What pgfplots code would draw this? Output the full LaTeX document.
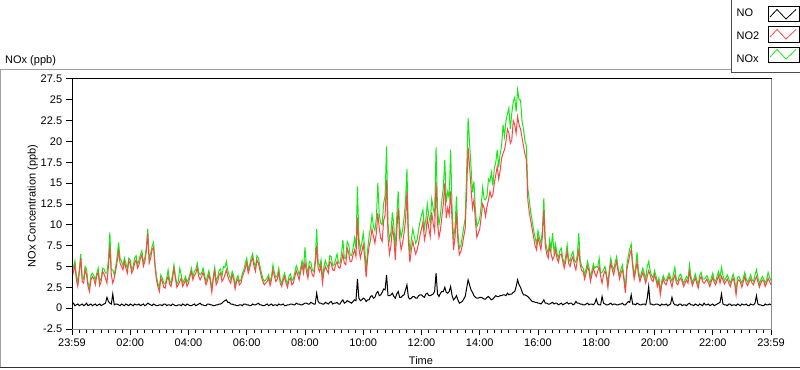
\documentclass[border=0pt]{standalone}
\usepackage{fontspec}
\setmainfont{Liberation Sans}
\usepackage{pgfplots}
\pgfplotsset{compat=1.18}
\usepackage{pgfplotstable}
\definecolor{noxgreen}{RGB}{20,235,20}
\definecolor{notwored}{RGB}{255,70,70}
\definecolor{framegray}{RGB}{160,160,160}
\definecolor{axgray}{RGB}{140,140,140}

\pgfplotstableread{
t no no2 nox
0.0 0.4 3.6 4.2
0.05 0.6 4.4 5.0
0.1 0.3 5.2 5.7
0.15 0.4 3.4 3.9
0.2 0.5 2.6 3.2
0.25 0.3 4.2 4.6
0.3 0.4 6.0 6.5
0.35 0.5 3.2 3.7
0.4 0.3 3.0 3.5
0.45 0.4 4.6 5.0
0.5 0.6 4.0 4.7
0.55 0.3 2.6 3.0
0.6 0.4 2.0 2.5
0.65 0.5 3.4 3.9
0.7 0.3 3.8 4.2
0.75 0.4 3.5 3.9
0.8 0.5 2.8 3.4
0.85 0.3 3.9 4.2
0.9 0.4 4.3 4.8
0.95 0.5 2.7 3.2
1.0 0.3 3.2 3.6
1.05 0.4 4.4 4.8
1.1 0.5 4.1 4.7
1.15 0.6 3.6 4.2
1.2 1.3 3.0 4.2
1.25 0.8 5.0 5.8
1.3 0.6 7.5 9.1
1.35 0.5 4.0 4.6
1.4 1.7 3.0 4.6
1.45 0.4 3.6 4.0
1.5 0.5 4.5 5.0
1.55 0.5 5.6 6.2
1.6 0.4 6.8 7.9
1.65 0.3 5.4 6.0
1.7 0.5 5.0 5.6
1.75 0.4 4.6 5.1
1.8 0.3 5.6 6.0
1.85 0.5 4.8 5.4
1.9 0.4 4.2 4.7
1.95 0.3 5.7 6.0
2.0 0.5 5.3 5.8
2.05 0.4 4.2 4.6
2.1 0.3 4.6 5.0
2.15 0.5 5.4 6.0
2.2 0.4 5.8 6.3
2.25 0.4 4.8 5.2
2.3 0.5 5.2 5.8
2.35 0.3 6.0 6.4
2.4 0.4 6.4 6.9
2.45 0.5 5.0 5.5
2.5 0.3 5.6 6.0
2.55 0.4 6.8 7.2
2.6 0.6 9.0 9.5
2.65 0.5 5.4 6.0
2.7 0.4 6.0 6.6
2.75 0.3 7.0 7.4
2.8 0.5 7.3 7.9
2.85 0.4 5.0 5.4
2.9 0.3 3.4 3.8
2.95 0.3 2.6 3.0
3.0 0.4 2.0 2.5
3.05 0.4 3.6 4.0
3.1 0.3 3.2 3.6
3.15 0.5 2.5 3.0
3.2 0.5 2.4 2.9
3.25 0.3 3.3 3.6
3.3 0.4 3.8 4.6
3.35 0.4 2.9 3.3
3.4 0.3 2.6 3.0
3.45 0.5 3.5 4.0
3.5 0.4 4.8 5.2
3.55 0.3 3.6 3.9
3.6 0.3 2.5 2.9
3.65 0.4 2.8 3.2
3.7 0.4 3.2 4.8
3.75 0.3 3.6 4.0
3.8 0.5 2.6 3.0
3.85 0.4 3.0 3.4
3.9 0.3 3.4 3.8
3.95 0.5 2.6 3.1
4.0 0.4 3.0 3.5
4.05 0.3 3.8 4.1
4.1 0.3 4.4 4.8
4.15 0.4 3.4 3.8
4.2 0.5 3.9 4.4
4.25 0.3 4.2 4.6
4.3 0.4 4.8 5.4
4.35 0.5 3.8 4.3
4.4 0.6 3.4 4.0
4.45 0.4 3.8 4.2
4.5 0.4 4.3 4.8
4.55 0.3 3.6 4.0
4.6 0.3 2.8 3.2
4.65 0.5 3.3 3.8
4.7 0.5 4.0 4.5
4.75 0.4 3.2 3.6
4.8 0.4 1.9 2.4
4.85 0.3 3.5 3.8
4.9 0.3 4.5 4.9
4.95 0.4 2.8 3.3
5.0 0.4 3.2 3.7
5.05 0.5 4.0 4.5
5.1 0.5 4.2 4.7
5.15 0.6 3.2 3.8
5.2 0.8 3.5 5.0
5.25 0.9 4.0 4.9
5.3 1.0 4.6 5.6
5.35 0.7 3.8 4.5
5.4 0.7 3.3 3.9
5.45 0.5 3.0 3.5
5.5 0.5 4.0 4.4
5.55 0.4 3.5 3.9
5.6 0.4 2.3 2.7
5.65 0.3 3.2 3.5
5.7 0.3 3.5 3.9
5.75 0.4 2.8 3.2
5.8 0.4 3.0 3.4
5.85 0.3 3.8 4.2
5.9 0.5 4.2 4.6
5.95 0.5 4.8 5.4
6.0 0.4 5.5 6.0
6.05 0.4 4.2 4.6
6.1 0.3 4.8 5.2
6.15 0.3 5.6 6.0
6.2 0.5 6.0 6.5
6.25 0.4 5.0 5.5
6.3 0.4 4.4 4.9
6.35 0.5 5.8 6.3
6.4 0.6 5.4 6.0
6.45 0.4 4.6 5.1
6.5 0.4 3.8 4.3
6.55 0.3 3.2 3.6
6.6 0.3 2.8 3.2
6.65 0.4 3.0 3.4
6.7 0.5 3.2 3.6
6.75 0.3 3.6 4.0
6.8 0.4 2.7 3.1
6.85 0.5 3.4 3.8
6.9 0.3 4.6 5.2
6.95 0.4 3.8 4.2
7.0 0.4 3.2 3.7
7.05 0.3 3.5 3.9
7.1 0.5 4.3 4.8
7.15 0.4 3.0 3.4
7.2 0.4 2.6 3.0
7.25 0.5 3.3 3.7
7.3 0.3 3.8 4.2
7.35 0.3 3.0 3.4
7.4 0.4 2.5 2.9
7.45 0.4 3.4 3.8
7.5 0.5 3.6 4.1
7.55 0.5 2.8 3.3
7.6 0.4 3.0 3.5
7.65 0.4 3.8 4.3
7.7 0.6 4.5 5.1
7.75 0.5 4.0 4.6
7.8 0.5 3.4 4.0
7.85 0.4 4.4 4.8
7.9 0.4 5.2 5.7
7.95 0.5 4.2 4.8
8.0 0.6 5.5 7.3
8.05 0.6 4.4 5.0
8.1 0.5 3.6 4.2
8.15 0.5 5.0 5.6
8.2 0.7 4.8 5.5
8.25 0.6 4.0 4.6
8.3 0.5 3.8 4.4
8.35 0.5 5.2 5.8
8.4 1.8 7.5 9.5
8.45 0.8 4.8 5.5
8.5 0.6 4.4 5.0
8.55 0.6 5.2 5.8
8.6 0.5 3.0 3.6
8.65 0.5 4.4 5.0
8.7 0.7 5.0 5.7
8.75 0.6 4.6 5.2
8.8 0.5 4.2 4.8
8.85 0.7 5.6 6.3
8.9 0.8 5.4 6.2
8.95 0.5 4.6 5.1
9.0 0.6 4.5 5.2
9.05 0.6 5.2 5.8
9.1 0.7 5.6 6.5
9.15 0.5 4.9 5.4
9.2 0.5 4.8 5.4
9.25 0.8 5.6 6.4
9.3 1.0 6.5 8.2
9.35 0.6 5.4 6.0
9.4 0.7 5.2 6.0
9.45 0.9 7.2 8.0
9.5 0.8 6.6 7.6
9.55 0.7 5.6 6.4
9.6 0.6 5.6 6.3
9.65 0.8 6.4 7.2
9.7 1.0 7.0 8.4
9.75 0.9 6.2 7.2
9.8 3.5 10.9 14.6
9.85 1.2 7.2 8.5
9.9 0.9 6.0 7.0
9.95 1.0 6.8 7.8
10.0 1.2 7.6 9.0
10.05 1.1 6.0 7.2
10.1 0.8 3.7 4.6
10.15 1.0 6.0 7.0
10.2 1.0 7.4 8.6
10.25 1.4 8.2 9.6
10.3 1.5 9.5 11.2
10.35 1.2 8.6 9.8
10.4 1.3 7.8 9.3
10.45 1.8 9.0 10.8
10.5 2.0 11.4 15.0
10.55 1.5 9.6 11.2
10.6 1.6 8.4 10.2
10.65 1.9 8.0 10.0
10.7 2.3 10.5 12.6
10.75 2.2 11.2 13.5
10.8 4.0 15.4 19.4
10.85 1.5 8.5 10.0
10.9 1.5 6.5 8.2
10.95 1.6 7.5 9.1
11.0 1.8 9.7 11.5
11.05 1.4 8.5 9.9
11.1 1.2 5.8 7.0
11.15 1.7 9.2 11.0
11.2 2.0 12.0 14.0
11.25 1.3 8.4 9.8
11.3 1.3 7.0 8.5
11.35 1.5 7.8 9.3
11.4 1.6 9.0 10.8
11.45 2.2 10.5 12.7
11.5 2.8 14.0 16.7
11.55 1.3 8.0 9.3
11.6 1.1 5.5 6.6
11.65 1.2 7.0 8.2
11.7 1.4 8.0 9.5
11.75 1.4 7.2 8.6
11.8 1.2 6.5 7.8
11.85 1.2 7.0 8.2
11.9 1.5 7.8 9.4
11.95 1.6 8.8 10.4
12.0 1.6 9.5 11.2
12.05 1.4 10.4 11.8
12.1 1.3 8.2 9.6
12.15 1.7 9.0 10.7
12.2 1.8 10.8 12.5
12.25 1.5 9.6 11.1
12.3 1.5 8.6 10.2
12.35 1.6 11.5 13.1
12.4 1.7 10.2 12.0
12.45 2.0 9.2 11.2
12.5 4.2 15.1 19.3
12.55 1.7 10.2 11.9
12.6 1.4 8.5 10.0
12.65 1.8 9.4 11.2
12.7 2.0 11.0 13.0
12.75 2.0 12.5 14.5
12.8 2.5 15.0 17.8
12.85 1.9 10.8 12.7
12.9 1.8 12.0 14.0
12.95 2.0 11.2 13.2
13.0 2.6 14.0 19.0
13.05 1.5 10.5 12.0
13.1 1.0 7.0 8.2
13.15 1.2 8.5 9.7
13.2 1.5 11.5 13.4
13.25 1.0 8.0 9.0
13.3 0.6 6.4 7.2
13.35 0.7 6.8 7.5
13.4 0.8 7.5 8.6
13.45 1.1 8.6 9.7
13.5 1.4 9.5 10.8
13.55 2.4 14.0 16.4
13.6 3.4 19.3 22.8
13.65 2.8 17.0 19.8
13.7 2.2 14.5 17.0
13.75 1.9 12.0 13.9
13.8 1.5 13.0 15.2
13.85 1.3 10.5 11.8
13.9 1.2 8.5 9.8
13.95 1.2 9.0 10.2
14.0 1.3 9.5 10.8
14.05 1.3 11.0 12.3
14.1 1.2 12.5 14.5
14.15 1.1 12.0 13.1
14.2 1.1 11.0 13.0
14.25 1.3 12.2 13.5
14.3 1.4 13.0 15.5
14.35 1.2 14.0 15.2
14.4 1.0 13.3 16.3
14.45 1.1 13.6 14.7
14.5 1.3 15.0 16.8
14.55 1.5 16.0 17.5
14.6 1.4 17.0 19.0
14.65 1.4 15.5 16.9
14.7 1.5 16.5 18.5
14.75 1.5 18.0 19.5
14.8 1.6 18.6 22.0
14.85 1.6 19.0 20.6
14.9 1.5 20.0 22.5
14.95 1.8 21.5 23.3
15.0 1.6 21.0 24.0
15.05 1.7 19.8 21.5
15.1 1.7 20.2 23.4
15.15 1.9 22.5 24.8
15.2 2.0 22.0 25.3
15.25 2.6 21.0 23.6
15.3 3.4 23.0 26.2
15.35 2.8 22.0 25.0
15.4 2.5 21.5 25.0
15.45 2.0 20.5 22.5
15.5 1.6 19.5 21.5
15.55 1.6 18.5 20.1
15.6 1.5 17.8 19.5
15.65 1.4 13.0 14.4
15.7 1.2 11.5 13.0
15.75 1.0 10.5 11.5
15.8 0.8 9.5 10.5
15.85 0.8 8.5 9.3
15.9 0.7 7.5 8.5
15.95 0.7 7.0 7.7
16.0 0.6 8.5 9.3
16.05 0.6 7.8 8.4
16.1 0.5 7.0 7.8
16.15 0.7 8.6 9.3
16.2 1.0 11.8 13.2
16.25 0.6 7.5 8.1
16.3 0.6 6.5 7.2
16.35 0.5 6.0 6.5
16.4 0.5 7.5 8.2
16.45 0.6 6.5 7.1
16.5 0.7 5.8 9.0
16.55 0.5 6.2 6.7
16.6 0.6 7.0 7.7
16.65 0.6 6.0 6.6
16.7 0.4 5.5 6.0
16.75 0.5 6.4 6.9
16.8 0.6 6.5 7.2
16.85 0.4 5.6 6.0
16.9 0.5 4.8 5.3
16.95 0.6 5.6 6.2
17.0 0.7 6.8 7.6
17.05 0.5 5.4 5.9
17.1 0.6 5.0 5.6
17.15 0.6 5.8 6.4
17.2 0.4 6.2 6.8
17.25 0.5 5.2 5.7
17.3 0.8 4.6 5.5
17.35 0.6 5.8 6.4
17.4 0.6 7.0 9.0
17.45 0.5 5.2 5.7
17.5 0.5 4.5 5.0
17.55 0.4 4.4 4.8
17.6 0.4 3.5 4.0
17.65 0.5 4.2 4.7
17.7 0.6 5.0 5.6
17.75 0.4 4.5 4.9
17.8 0.5 3.2 3.7
17.85 0.5 4.0 4.5
17.9 0.4 4.8 5.3
17.95 0.6 4.2 4.8
18.0 1.1 3.8 5.0
18.05 0.5 4.4 4.9
18.1 0.4 5.0 6.0
18.15 0.4 3.8 4.2
18.2 1.4 3.0 4.3
18.25 0.6 4.0 4.6
18.3 0.5 4.5 5.0
18.35 0.4 3.8 4.2
18.4 0.4 2.5 2.9
18.45 0.5 4.2 4.7
18.5 0.6 5.4 6.0
18.55 0.4 4.6 5.0
18.6 0.5 4.0 4.6
18.65 0.5 5.0 5.5
18.7 0.4 5.6 6.2
18.75 0.4 4.4 4.8
18.8 0.5 3.5 4.0
18.85 0.5 4.2 4.7
18.9 0.6 4.6 5.2
18.95 0.4 3.4 3.8
19.0 0.4 1.8 2.3
19.05 0.6 4.6 5.2
19.1 0.8 5.5 6.3
19.15 0.7 6.4 7.1
19.2 1.6 7.0 7.7
19.25 0.5 5.0 5.5
19.3 0.5 3.5 4.0
19.35 0.4 4.4 4.8
19.4 0.6 5.5 6.7
19.45 0.5 4.0 4.5
19.5 0.4 3.2 3.6
19.55 0.4 3.8 4.2
19.6 0.5 4.3 4.8
19.65 0.5 3.6 4.1
19.7 0.4 3.0 3.5
19.75 1.2 3.8 5.0
19.8 2.6 4.5 5.6
19.85 0.5 4.0 4.5
19.9 0.5 3.4 3.9
19.95 0.4 3.2 3.6
20.0 0.4 4.0 4.5
20.05 0.5 3.4 3.9
20.1 0.5 2.6 3.0
20.15 0.4 3.2 3.6
20.2 0.3 1.6 2.0
20.25 0.5 2.8 3.3
20.3 0.4 3.5 3.9
20.35 0.4 3.0 3.4
20.4 0.5 2.8 3.3
20.45 0.3 3.4 3.7
20.5 0.4 3.8 4.2
20.55 0.5 3.2 3.7
20.6 1.3 2.5 3.2
20.65 0.6 3.5 4.1
20.7 0.4 4.0 4.9
20.75 0.4 3.0 3.4
20.8 0.3 2.8 3.2
20.85 0.5 3.4 3.9
20.9 0.5 3.6 4.1
20.95 0.3 3.2 3.5
21.0 0.4 2.6 3.0
21.05 0.4 3.0 3.4
21.1 0.3 3.4 3.8
21.15 0.5 3.0 3.5
21.2 0.6 4.4 5.2
21.25 0.4 3.4 3.8
21.3 0.4 2.7 3.1
21.35 0.3 3.2 3.5
21.4 0.5 3.6 4.1
21.45 0.4 3.0 3.4
21.5 0.3 2.4 2.8
21.55 0.5 3.4 3.9
21.6 0.4 3.8 4.3
21.65 0.3 3.2 3.5
21.7 0.6 3.0 3.5
21.75 0.4 3.2 3.6
21.8 0.4 3.5 3.9
21.85 0.5 3.0 3.5
21.9 0.3 2.6 3.0
21.95 0.4 3.2 3.6
22.0 0.5 3.7 4.2
22.05 0.3 3.1 3.4
22.1 0.4 2.8 3.2
22.15 0.5 3.4 3.9
22.2 0.6 3.9 4.4
22.25 0.7 3.0 3.7
22.3 1.7 3.8 4.9
22.35 0.5 3.4 3.9
22.4 0.4 2.9 3.3
22.45 0.4 3.2 3.6
22.5 0.3 3.5 4.0
22.55 0.5 3.0 3.5
22.6 0.5 2.6 3.0
22.65 0.3 3.2 3.5
22.7 0.4 3.6 4.1
22.75 0.4 3.0 3.4
22.8 0.3 1.6 2.0
22.85 0.5 3.2 3.7
22.9 0.4 3.4 3.8
22.95 0.3 3.1 3.4
23.0 0.5 2.5 3.0
23.05 0.4 3.2 3.6
23.1 0.4 3.8 4.3
23.15 0.5 3.0 3.5
23.2 0.3 2.7 3.1
23.25 0.3 3.2 3.5
23.3 0.5 3.5 4.0
23.35 0.4 3.0 3.4
23.4 0.4 2.8 3.2
23.45 0.6 3.4 4.0
23.5 1.5 3.8 4.6
23.55 0.5 3.2 3.7
23.6 0.4 2.5 2.9
23.65 0.4 3.0 3.4
23.7 0.3 3.4 3.8
23.75 0.3 3.2 3.5
23.8 0.5 2.6 3.0
23.85 0.4 3.0 3.4
23.9 0.4 3.6 4.3
23.95 0.5 3.2 3.7
24.0 0.4 2.8 3.3
}\data

\begin{document}
\fontsize{11bp}{13bp}\selectfont
\begin{tikzpicture}[x=1bp,y=1bp]
\useasboundingbox (0,0) rectangle (800,369);
\fill[white] (0,0) rectangle (800,369);
% outer panel frame
\draw[framegray,line width=1bp] (0.5,1) -- (0.5,299.5) -- (731,299.5);
\draw[black!80,line width=1.2bp] (0,1.6) -- (800,1.6);
% title
\node[anchor=base west,inner sep=0] at (5,306) {NOx (ppb)};

\begin{axis}[
  scale only axis,
  width=699bp, height=250bp,
  at={(72bp,40bp)}, anchor=south west,
  xmin=0, xmax=24, ymin=-2.5, ymax=27.5,
  axis line style={draw=none},
  xtick={0,2,4,6,8,10,12,14,16,18,20,22,24},
  xticklabels={23:59,02:00,04:00,06:00,08:00,10:00,12:00,14:00,16:00,18:00,20:00,22:00,23:59},
  minor x tick num=7,
  ytick={-2.5,0,2.5,5,7.5,10,12.5,15,17.5,20,22.5,25,27.5},
  yticklabels={-2.5,0,2.5,5,7.5,10,12.5,15,17.5,20,22.5,25,27.5},
  xtick pos=bottom, ytick pos=left,
  tick align=outside,
  major tick length=6bp, minor tick length=4bp,
  every tick/.style={black,line width=1bp},
  tick label style={font=\fontsize{11bp}{13bp}\selectfont},
  clip=true,
]
\addplot[noxgreen, line width=1bp] table[x=t,y=nox] {\data};
\addplot[notwored, line width=1bp] table[x=t,y=no2] {\data};
\addplot[black, line width=1bp] table[x=t,y=no] {\data};
\end{axis}

% plot frame
\draw[axgray,line width=1bp] (72,40) -- (771.5,40) -- (771.5,290);
\draw[black,line width=1bp] (72,40) -- (72,290.5) -- (771.5,290.5);

% axis titles
\node[anchor=base,inner sep=0] at (421,5) {Time};
\node[anchor=base,rotate=90,inner sep=0] at (35.5,163) {NOx Concentration (ppb)};

% legend
\fill[white] (731,297) rectangle (800,369);
\draw[black!70,line width=1bp] (731,369) -- (731,297) -- (800,297);
\node[anchor=west,inner sep=0] at (736.5,356) {NO};
\node[anchor=west,inner sep=0] at (736.5,333) {NO2};
\node[anchor=west,inner sep=0] at (736.5,310) {NOx};
\draw[black,line width=1bp] (768,347) rectangle (799,362);
\draw[black,line width=0.8bp] (770,352) -- (777,359.5) -- (786,350) -- (796,359.5);
\draw[black,line width=1bp] (768,327) rectangle (799,342);
\draw[notwored,line width=0.8bp] (770,332) -- (777,339.5) -- (786,330) -- (796,339.5);
\draw[black,line width=1bp] (768,307) rectangle (799,322);
\draw[noxgreen,line width=0.8bp] (770,312) -- (777,319.5) -- (786,310) -- (796,319.5);
\end{tikzpicture}
\end{document}
